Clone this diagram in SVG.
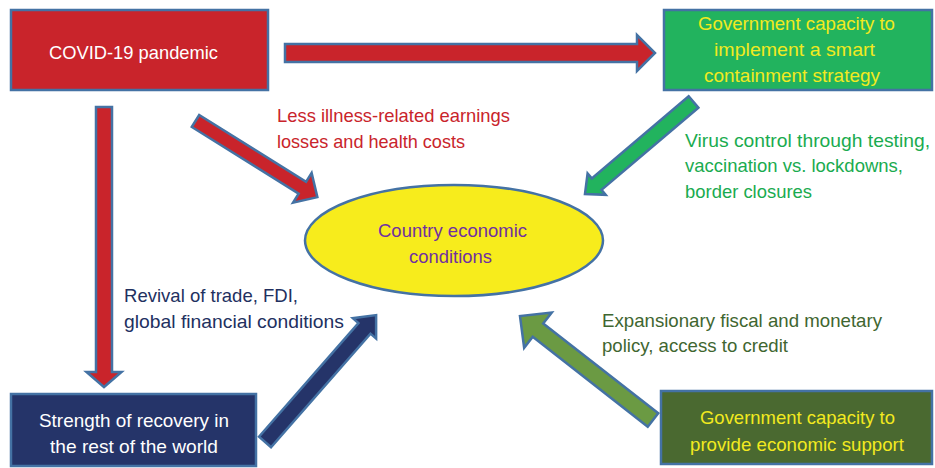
<svg xmlns="http://www.w3.org/2000/svg" width="935" height="468" viewBox="0 0 935 468">
<style>
.t{font-family:"Liberation Sans",Arial,sans-serif;font-size:19px;}
.box{stroke:#4472a4;stroke-width:2.5;}
.arr{stroke:#4472a4;stroke-width:2.5;stroke-linejoin:miter;}
</style>
<rect width="935" height="468" fill="#ffffff"/>
<g id="connectors">
  <!-- red horizontal: tail (285,53) tip (655,53) -->
  <polygon class="arr" fill="#c9242b" transform="translate(285,53)" points="0,-9 352,-9 352,-18 370,0 352,18 352,9 0,9"/>
  <!-- red vertical -->
  <polygon class="arr" fill="#c9242b" transform="translate(104,107) rotate(90)" points="0,-8 265,-8 265,-17.5 280,0 265,17.5 265,8 0,8"/>
  <!-- red diagonal -->
  <polygon class="arr" fill="#c9242b" transform="translate(195.5,121) rotate(32)" points="0,-7 126,-7 126,-17.5 143.7,0 126,17.5 126,7 0,7"/>
  <!-- green diagonal -->
  <polygon class="arr" fill="#22b35e" transform="translate(693.5,102) rotate(139.7)" points="0,-7.5 127,-7.5 127,-14 142.3,0 127,14 127,7.5 0,7.5"/>
  <!-- navy diagonal -->
  <polygon class="arr" fill="#253469" transform="translate(265,442) rotate(-48.8)" points="0,-8 151,-8 151,-15.5 168.7,0 151,15.5 151,8 0,8"/>
  <!-- olive diagonal -->
  <polygon class="arr" fill="#6b9a43" transform="translate(653,420) rotate(-142)" points="0,-8.5 146,-8.5 146,-22.4 168.8,0 146,22.4 146,8.5 0,8.5"/>
</g>
<g id="labels">
  <text class="t" fill="#c9242b" x="277" y="122" textLength="233" lengthAdjust="spacingAndGlyphs">Less illness-related earnings</text>
  <text class="t" fill="#c9242b" x="277" y="148" textLength="188" lengthAdjust="spacingAndGlyphs">losses and health costs</text>
  <text class="t" fill="#1aab4f" x="685" y="147" textLength="245" lengthAdjust="spacingAndGlyphs">Virus control through testing,</text>
  <text class="t" fill="#1aab4f" x="685" y="172" textLength="218" lengthAdjust="spacingAndGlyphs">vaccination vs. lockdowns,</text>
  <text class="t" fill="#1aab4f" x="685" y="198" textLength="127" lengthAdjust="spacingAndGlyphs">border closures</text>
  <text class="t" fill="#22305f" x="124" y="302" textLength="174" lengthAdjust="spacingAndGlyphs">Revival of trade, FDI,</text>
  <text class="t" fill="#22305f" x="124" y="328" textLength="220" lengthAdjust="spacingAndGlyphs">global financial conditions</text>
  <text class="t" fill="#3f6630" x="602" y="327" textLength="280" lengthAdjust="spacingAndGlyphs">Expansionary fiscal and monetary</text>
  <text class="t" fill="#3f6630" x="602" y="352" textLength="186" lengthAdjust="spacingAndGlyphs">policy, access to credit</text>
</g>
<g id="covid">
  <rect class="box" fill="#c9242b" x="11" y="10" width="257" height="80"/>
  <text class="t" fill="#ffffff" x="49" y="59" textLength="169" lengthAdjust="spacingAndGlyphs">COVID-19 pandemic</text>
</g>
<g id="containment">
  <rect class="box" fill="#22b35e" x="664" y="10" width="268" height="80"/>
  <text class="t" fill="#f2ea1f" x="698" y="30" textLength="197" lengthAdjust="spacingAndGlyphs">Government capacity to</text>
  <text class="t" fill="#f2ea1f" x="714" y="56" textLength="161" lengthAdjust="spacingAndGlyphs">implement a smart</text>
  <text class="t" fill="#f2ea1f" x="704" y="82" textLength="176" lengthAdjust="spacingAndGlyphs">containment strategy</text>
</g>
<g id="economy">
  <ellipse class="box" fill="#f7ec1c" cx="454" cy="240.5" rx="149" ry="55.5"/>
  <text class="t" fill="#7030a0" x="378" y="237" textLength="149" lengthAdjust="spacingAndGlyphs">Country economic</text>
  <text class="t" fill="#7030a0" x="409" y="263" textLength="83" lengthAdjust="spacingAndGlyphs">conditions</text>
</g>
<g id="world">
  <rect class="box" fill="#253469" x="11" y="394" width="245" height="72"/>
  <text class="t" fill="#ffffff" x="39" y="427" textLength="190" lengthAdjust="spacingAndGlyphs">Strength of recovery in</text>
  <text class="t" fill="#ffffff" x="50" y="453" textLength="168" lengthAdjust="spacingAndGlyphs">the rest of the world</text>
</g>
<g id="support">
  <rect class="box" fill="#4a6930" x="661" y="391" width="271" height="73"/>
  <text class="t" fill="#f2ea1f" x="700" y="424" textLength="195" lengthAdjust="spacingAndGlyphs">Government capacity to</text>
  <text class="t" fill="#f2ea1f" x="690" y="451" textLength="214" lengthAdjust="spacingAndGlyphs">provide economic support</text>
</g>
</svg>
